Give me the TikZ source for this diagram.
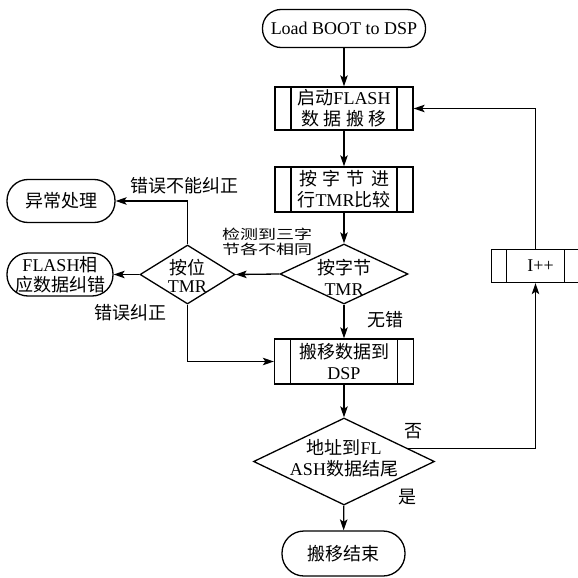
\documentclass[tikz,border=0pt]{standalone}
\usepackage{graphicx}
\usepackage{fontspec}
\setmainfont{Liberation Serif}
\newfontfamily\cjk{Noto Sans CJK SC}
\usetikzlibrary{shapes.geometric,arrows.meta,calc}
\newcommand\zh[1]{{\cjk #1}}
\newcommand\spreadzh[2]{\makebox[#1][s]{\cjk #2}}
\begin{document}
\begin{tikzpicture}[x=1pt,y=-1pt,
  line width=1.3pt,
  every node/.style={font=\fontsize{18}{21}\selectfont},
  term/.style={draw, rectangle, rounded corners=#1, inner sep=0pt, align=center},
  term/.default=21pt,
  proc/.style={draw, rectangle, inner sep=0pt, align=center,
     path picture={\draw[line width=1.1pt] ([xshift=#1]path picture bounding box.north west) -- ([xshift=#1]path picture bounding box.south west)
                         ([xshift=-#1]path picture bounding box.north east) -- ([xshift=-#1]path picture bounding box.south east);}},
  proc/.default=16pt,
  dia/.style={draw, diamond, inner sep=0pt},
  txt/.style={inner sep=0pt, align=center},
  lab/.style={inner sep=0pt, align=center, font=\fontsize{18}{18}\selectfont},
  arr/.style={-{Stealth[length=11pt,width=7.5pt,inset=2.5pt]}},
]
\useasboundingbox (0,0) rectangle (578,578);
% nodes
\node[term=18.5pt, minimum width=163pt, minimum height=38pt] (load) at (344,28.5) {Load BOOT to DSP};
\node[proc, minimum width=138pt, minimum height=43pt] (b1) at (344,108.5) {\zh{启动}FLASH\\\spreadzh{86pt}{数\hfil 据\hfil 搬\hfil 移}};
\node[proc, minimum width=138pt, minimum height=45pt] (b2) at (344,189.5) {\spreadzh{90pt}{按\hfil 字\hfil 节\hfil 进}\\\zh{行}TMR\zh{比较}};
\node[dia, minimum width=128pt, minimum height=60pt] (d1) at (344,274) {};
\node[txt] (d1t) at (344,277) {\zh{按字节}\\TMR};
\node[dia, minimum width=95pt, minimum height=59pt] (d2) at (187.5,274.5) {};
\node[txt, font=\fontsize{18}{18}\selectfont] (d2t) at (187.5,275.5) {\zh{按位}\\TMR};
\node[term, minimum width=108pt, minimum height=43pt] (e1) at (61,201) {\zh{异常处理}};
\node[term, minimum width=106pt, minimum height=43pt, font=\fontsize{18}{19.5}\selectfont] (e2) at (60,274.5) {FLASH\zh{相}\\\zh{应数据纠错}};
\node[proc, minimum width=139pt, minimum height=45pt] (b3) at (344,361.5) {\zh{搬移数据到}\\DSP};
\node[dia, minimum width=181pt, minimum height=87pt] (d3) at (344,461.5) {};
\node[txt] (d3t) at (344,458) {\zh{地址到}FL\\ASH\zh{数据结尾}};
\node[term=22pt, minimum width=123pt, minimum height=45pt] (end) at (343.5,553.5) {\zh{搬移结束}};
\node[proc=15pt, minimum width=88pt, minimum height=33pt] (inc) at (535.5,266) {\hspace{10pt}I++};
% connectors
\draw[arr] (load) -- (b1);
\draw[arr] (b1) -- (b2);
\draw[arr] (b2) -- (d1);
\draw[arr] (d1) -- (b3);
\draw[arr] (b3) -- (d3);
\draw[arr] (d3) -- (end);
\draw[arr] (d1.west) -- (d2.east);
\draw[arr] (d2.west) -- (e2.east);
\draw[arr] (d2.north) |- (e1.east);
\draw[arr] (d2.south) |- (b3.west);
\coordinate (d3o) at ($(d3.north)!0.7!(d3.east)$);
\draw[arr] (d3o) -| (inc.south);
\draw[arr] (inc.north) |- (b1.east);
% labels
\node[lab] (l1) at (184.5,186) {\zh{错误不能纠正}};
\node[lab] (l2) at (267,243.5) {\scalebox{1}[0.75]{\begin{tabular}{@{}c@{}}\zh{检测到三字}\\\zh{节各不相同}\end{tabular}}};
\node[lab] (l3) at (130,313) {\zh{错误纠正}};
\node[lab] (l4) at (385,320) {\zh{无错}};
\node[lab] (l5) at (413,431) {\zh{否}};
\node[lab] (l6) at (407,497) {\zh{是}};
\end{tikzpicture}
\end{document}
